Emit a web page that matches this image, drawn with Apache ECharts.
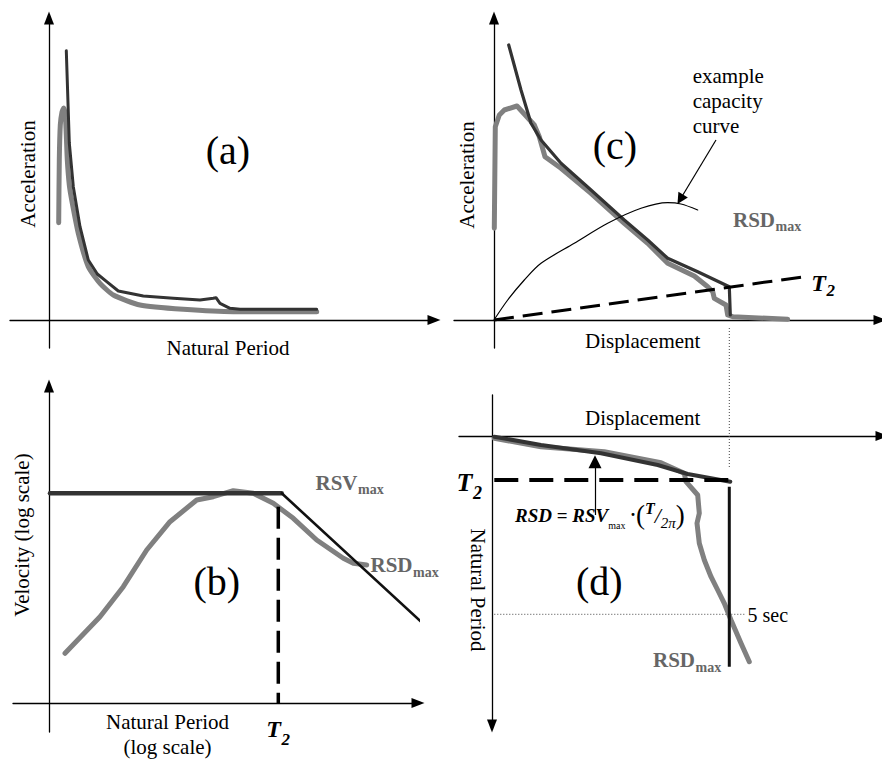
<!DOCTYPE html>
<html><head><meta charset="utf-8">
<script src="https://cdn.jsdelivr.net/npm/echarts/dist/echarts.min.js"></script>
<style>html,body{margin:0;padding:0;background:#fff}#c{width:882px;height:760px}</style>
</head><body><div id="c"></div>
<script>
// ---------- DATA (relative units measured from each panel's axis origin) ----------
// (a) Acceleration vs natural period
const aRecord = [[9.7,97.3],[10.3,160],[11.3,195],[13,208],[14.7,212],[16.3,205],[17.3,185],[18.3,160],[20.3,135],[22.7,120],[29.3,86.7],[39.3,53.3],[51,36.7],[64.3,25],[91,15],[134.3,10.7],[184.3,8.3],[267.7,8.3]];
const aDesign = [[17.3,269.3],[20.3,177],[24.3,133.3],[31,93.3],[39.3,60],[48.3,46],[57.7,38.3],[69.3,29],[94.3,24],[124.3,21.7],[151,20],[164.3,21.7],[167,22.3],[171,16.7],[181,11.7],[191,10.7],[267.7,10.7]];
// (c) Acceleration vs displacement
const cRecord = [[0.3,91.7],[1.3,193.3],[5.3,205],[10.3,210],[23,214],[40.3,195],[45.3,183.3],[51,163.3],[67,151.7],[97,126.7],[130.3,96.7],[153.7,76.7],[173.7,56.7],[200.3,44],[213.7,33.3],[218.7,28.3],[220.3,21.7],[232,15],[233.7,5],[238.7,3.3],[293.7,0.7]];
const cDesign = [[14.7,275],[27,230],[37,196.7],[47,180],[67,156.7],[97,130],[130.3,100],[153.7,80],[173.7,61.7],[203.7,48.3],[235.3,33.3],[236.3,5]];
const cCapacity = [[0,0],[13.7,20],[30.3,40],[47,56.7],[80.3,76.7],[113.7,96.7],[147,111.7],[173.7,117.3],[187,116],[203.7,110]];
const cT2Line = [[0,0],[310.3,43.3]];
const cPointer = [[222,180],[186.3,120.7]];
// (b) Velocity vs natural period (log-log)
const bRecord = [[16,49.7],[51,86.3],[74.3,116.3],[97.7,153],[121,181.3],[147.7,203],[164.3,206.3],[184.3,212.3],[204.3,209.7],[224.3,199.7],[244.3,184.7],[267.7,163],[294.3,144.7],[304.3,139.7],[317.7,138]];
const bPlateau = [[1,209.7],[232.7,209.7]];
const bDecay = [[232.7,209.7],[379.3,74.7]];
const bT2 = [[229.3,196.3],[229.3,0]];
// (d) Natural period (downwards) vs displacement
const dRecord = [[2.3,2.3],[49,10.7],[112.3,15.7],[169,26.7],[192.3,37.3],[194,45.7],[205.7,59],[207.3,77.3],[205,87.3],[207.3,107.3],[212.3,124],[219,140.7],[225.7,154],[232.3,167.3],[239,184],[249,207.3],[257.3,225.7]];
const dDesign = [[2.3,0.7],[49,9],[109,17.3],[165.7,29],[195.7,38],[238.3,45.7]];
const dRSDmax = [[237.3,50.7],[237.3,230.7]];
const dT2 = [[2.3,44],[237.3,44]];
const dPointer = [[103,79],[103,25.7]];
const d5sec = [[2.3,178.3],[254,178.3]];
const dGuide = [[237.3,-108],[237.3,32]];

// ---------- STYLE ----------
const SERIF = '"Liberation Serif","Times New Roman",serif';
const GRAY = '#808080', DARK = '#333333', LABEL_GRAY = '#666666';

function ax(min, max, extra, sym) {
  return Object.assign({
    type: 'value', min, max, splitLine: {show:false}, axisTick:{show:false}, axisLabel:{show:false},
    axisLine: {show:true, onZero:true, symbol: sym || ['none','triangle'], symbolSize:[10,13], lineStyle:{color:'#000', width:1.3}}
  }, extra || {});
}
function ln(gi, data, color, width, extra) {
  return Object.assign({
    type:'line', xAxisIndex:gi, yAxisIndex:gi, data, symbol:'none', showSymbol:false, silent:true,
    lineStyle:{color, width, cap:'round', join:'round'}
  }, extra || {});
}
function dash(gi, data, width, pattern) {
  return ln(gi, data, '#000', width, {lineStyle:{color:'#000', width, type:pattern, cap:'butt'}, clip:false});
}
function arrow(gi, data, size) {
  return {type:'lines', coordinateSystem:'cartesian2d', xAxisIndex:gi, yAxisIndex:gi, silent:true,
    symbol:['none','triangle'], symbolSize:size, lineStyle:{color:'#000', width:1.2, opacity:1},
    data:[{coords:data}]};
}
function txt(text, x, y, font, o) {
  o = o || {};
  const style = {text, x:0, y:0, font, fill:o.fill || '#000', align:o.align || 'center', verticalAlign:'middle'};
  if (o.rich) style.rich = o.rich;
  return {type:'text', x, y, rotation:o.rot || 0, silent:true, z:100, style};
}
const F = s => s + 'px ' + SERIF;
const FB = s => 'bold ' + s + 'px ' + SERIF;
const FBI = s => 'italic bold ' + s + 'px ' + SERIF;
const FI = s => 'italic ' + s + 'px ' + SERIF;

// subscripted label: main text ends at x, subscript starts at x
function sub(main, small, x, y, ySub, mainFont, subFont, fill) {
  return [
    txt(main, x, y, mainFont, {align:'right', fill}),
    txt(small, x + 0.5, ySub, subFont, {align:'left', fill})
  ];
}

const grids = [
  {left:10, top:18, width:424, height:330},   // (a)
  {left:454, top:18, width:426, height:330},  // (c)
  {left:13, top:386, width:405, height:346},  // (b)
  {left:459, top:395, width:423, height:331}  // (d)
].map(g => Object.assign({containLabel:false, outerBoundsMode:'none'}, g));

const option = {
  animation:false,
  backgroundColor:'#fff',
  grid: grids,
  xAxis: [ax(-39,385,{gridIndex:0}), ax(-40,386,{gridIndex:1}), ax(-36,369,{gridIndex:2}), ax(-33,390,{gridIndex:3})],
  yAxis: [ax(-28,302,{gridIndex:0}), ax(-28,302,{gridIndex:1}), ax(-29,317,{gridIndex:2}), ax(-41,290,{gridIndex:3, inverse:true}, ['triangle','none'])],
  series: [
    // (a)
    ln(0, aRecord, GRAY, 5, {smooth:0.2}),
    ln(0, aDesign, DARK, 3),
    // (c)
    ln(1, cRecord, GRAY, 5),
    ln(1, cDesign, DARK, 3.2),
    ln(1, cCapacity, '#000', 1.2, {smooth:0.3}),
    dash(1, cT2Line, 3, [20,9]),
    arrow(1, cPointer, [8,11]),
    // (b)
    ln(2, bRecord, GRAY, 5),
    ln(2, bPlateau, DARK, 4.5),
    ln(2, bDecay, '#111', 2.6, {clip:false}),
    dash(2, bT2, 3.5, [22,9]),
    // (d)
    ln(3, dGuide, '#444', 1, {clip:false, lineStyle:{color:'#444', width:1, type:[1,2]}}),
    ln(3, d5sec, '#444', 1, {lineStyle:{color:'#444', width:1, type:[1,2]}}),
    ln(3, dRecord, GRAY, 5),
    ln(3, dDesign, DARK, 4),
    ln(3, dRSDmax, '#111', 3, {lineStyle:{color:'#111', width:3, cap:'butt'}}),
    dash(3, dT2, 4, [24,11]),
    arrow(3, dPointer, [11,13])
  ],
  graphic: [].concat(
    // (a)
    txt('(a)', 228, 150, F(40)),
    txt('Acceleration', 27.5, 174, F(21), {rot:Math.PI/2}),
    txt('Natural Period', 228, 348, F(21)),
    // (c)
    txt('(c)', 615, 145, F(40)),
    txt('Acceleration', 467, 175, F(21), {rot:Math.PI/2}),
    txt('example', 692.7, 75.5, F(21), {align:'left'}),
    txt('capacity', 692.7, 100.5, F(21), {align:'left'}),
    txt('curve', 692.7, 125.5, F(21), {align:'left'}),
    sub('RSD', 'max', 775, 219.5, 226.5, FB(21), FB(14), LABEL_GRAY),
    sub('T', '2', 826, 283, 290, FBI(24), FBI(17)),
    txt('Displacement', 642.7, 340.5, F(21)),
    // (b)
    txt('(b)', 216.7, 581, F(40)),
    sub('RSV', 'max', 357.5, 482.5, 489.5, FB(21), FB(14), LABEL_GRAY),
    sub('RSD', 'max', 412.5, 565, 572, FB(21), FB(14), LABEL_GRAY),
    txt('Velocity (log scale)', 22, 535, F(21), {rot:Math.PI/2}),
    txt('Natural Period', 167.5, 721.7, F(21)),
    txt('(log scale)', 167.5, 747, F(21)),
    sub('T', '2', 281, 729, 739, FBI(24), FBI(17)),
    // (d)
    txt('Displacement', 642.7, 418.3, F(21)),
    sub('T', '2', 472.5, 482.5, 492.5, FBI(26), FBI(18)),
    txt('{i|RSD} {e|=} {i|RSV}{m|max}{d| ·}{p|(}{t|T}{s|/}{f|2π}{p|)}', 515, 515, FBI(19), {align:'left', rich:{
      i:{font:FBI(19), fill:'#000', lineHeight:20},
      e:{font:FB(19), fill:'#000', lineHeight:20},
      m:{font:F(10), fill:'#000', lineHeight:7, verticalAlign:'bottom'},
      d:{font:FB(18), fill:'#000', lineHeight:20},
      p:{font:F(27), fill:'#000', lineHeight:30},
      t:{font:FBI(16), fill:'#000', lineHeight:18, verticalAlign:'top'},
      s:{font:FI(22), fill:'#000', lineHeight:24},
      f:{font:FI(15), fill:'#000', lineHeight:12, verticalAlign:'bottom'}
    }}),
    txt('(d)', 599.3, 581, F(40)),
    txt('Natural Period', 478, 590, F(21), {rot:-Math.PI/2}),
    txt('5 sec', 747.5, 614.5, F(20), {align:'left'}),
    sub('RSD', 'max', 695, 660, 667.5, FB(21), FB(14), LABEL_GRAY)
  )
};
const chart = echarts.init(document.getElementById('c'), null, {renderer:'svg', width:882, height:760});
chart.setOption(option);
</script></body></html>
